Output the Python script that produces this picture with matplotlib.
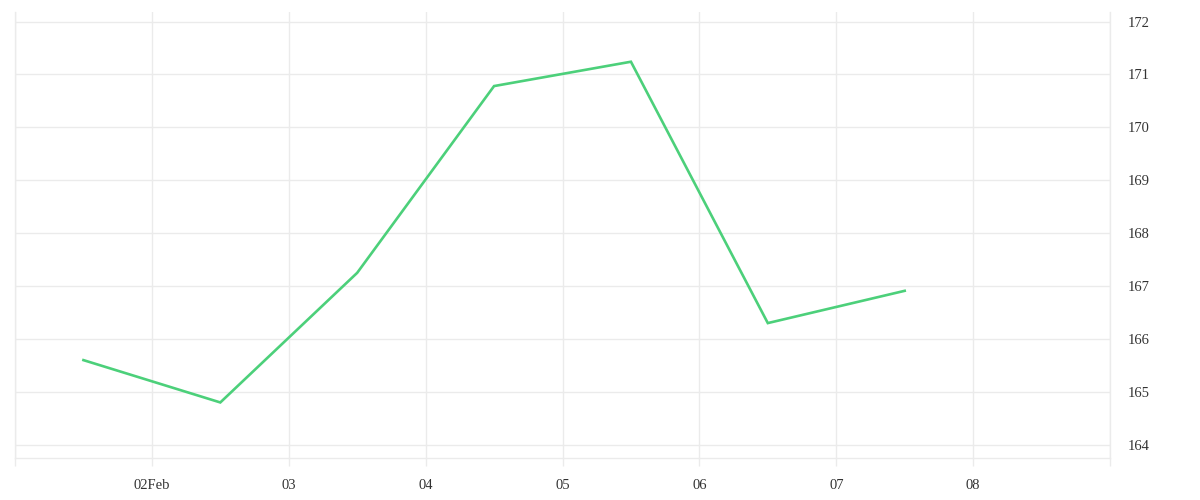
import matplotlib
matplotlib.use("Agg")
import matplotlib.pyplot as plt
import numpy as np
import pandas as pd

# data
dates = pd.to_datetime([
    "2024-02-01 12:00", "2024-02-02 12:00", "2024-02-03 12:00",
    "2024-02-04 12:00", "2024-02-05 12:00", "2024-02-06 12:00",
    "2024-02-07 12:00",
])
values = [165.60, 164.80, 167.25, 170.78, 171.24, 166.30, 166.91]

tick_days = pd.date_range("2024-02-01", "2024-02-09", freq="D")
tick_labels = ["", "02Feb", "03", "04", "05", "06", "07", "08", ""]
y_ticks = [164, 165, 166, 167, 168, 169, 170, 171, 172]

GRID = "#ebebeb"
LINE = "#4cd07a"
TEXT = "#333333"

plt.rcParams["font.family"] = ["Liberation Serif", "DejaVu Serif"]

fig = plt.figure(figsize=(12, 5), dpi=100)
ax = fig.add_axes([15 / 1200, 42 / 500, (1110 - 15) / 1200, (458 - 12) / 500])

ax.plot(dates, values, color=LINE, linewidth=1.9, solid_joinstyle="miter")

ax.set_xlim(tick_days[0], tick_days[-1])
ax.set_ylim(163.75, 172.18)

ax.set_xticks(tick_days)
ax.set_xticklabels(tick_labels)
ax.set_yticks(y_ticks)
ax.yaxis.tick_right()

ax.grid(True, color=GRID, linewidth=1)
ax.set_axisbelow(True)

for side in ["left", "right", "bottom"]:
    ax.spines[side].set_color(GRID)
    ax.spines[side].set_linewidth(1)
ax.spines["top"].set_visible(False)

ax.tick_params(axis="x", length=6, width=1, color=GRID, pad=9,
               labelsize=10.5, labelcolor=TEXT)
ax.tick_params(axis="y", length=0, pad=13, labelsize=10.5, labelcolor=TEXT)

fig.savefig("out.png", dpi=100, facecolor="white")
